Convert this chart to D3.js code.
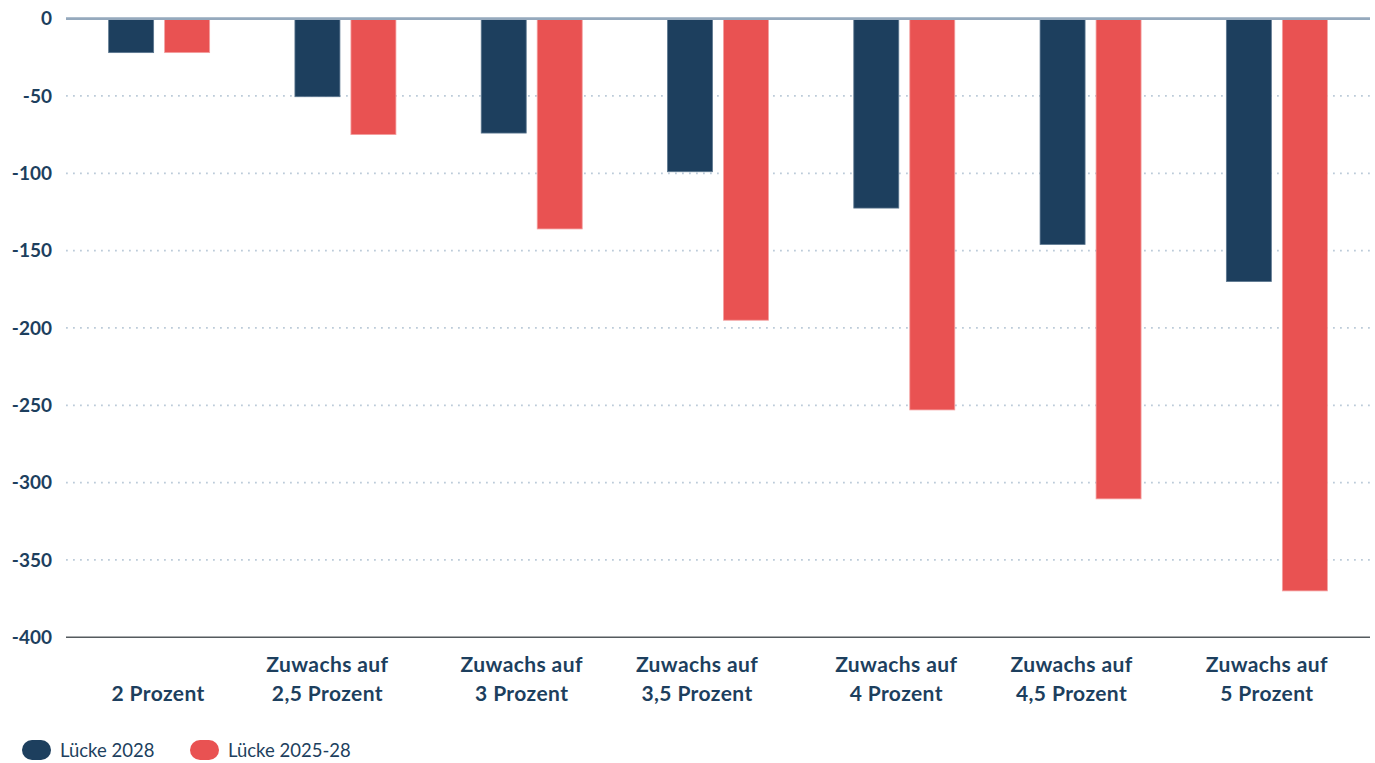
<!DOCTYPE html>
<html><head><meta charset="utf-8">
<script src="https://cdn.jsdelivr.net/npm/d3@7"></script>
<style>
html,body{margin:0;padding:0;background:#fff;}
svg{display:block;font-family:"Lato","Open Sans",sans-serif;}
</style></head>
<body>
<svg id="chart" width="1375" height="763"></svg>
<script>
const categories = [
  ["", "2 Prozent"],
  ["Zuwachs auf", "2,5 Prozent"],
  ["Zuwachs auf", "3 Prozent"],
  ["Zuwachs auf", "3,5 Prozent"],
  ["Zuwachs auf", "4 Prozent"],
  ["Zuwachs auf", "4,5 Prozent"],
  ["Zuwachs auf", "5 Prozent"]
];
const seriesNames = ["Lücke 2028", "Lücke 2025-28"];
const luecke2028 = [-22, -50.5, -74, -99, -122.5, -146, -170];
const luecke2025_28 = [-22, -75, -136, -195, -253, -310.5, -370];
const yTicks = [0, -50, -100, -150, -200, -250, -300, -350, -400];
const colors = ["#1d3f5e", "#e95252"];

// layout: small horizontal nudges of the category labels, as in the original
const labelNudge = [-1, -18, -10, -21, -8, -19, -10];

const svg = d3.select("#chart");
const m = {left: 66, right: 1370, top: 18.6, bottom: 637.3};
const x = d3.scaleBand().domain(d3.range(categories.length)).range([m.left, m.right]).paddingInner(0).paddingOuter(0);
const y = d3.scaleLinear().domain([0, -400]).range([m.top, m.bottom]);
const barW = 45, gap = 11;
const textColor = "#1d3f5e";

// gridlines
svg.append("g").selectAll("line").data(yTicks.filter(t => t !== 0 && t !== -400)).join("line")
  .attr("x1", m.left).attr("x2", m.right)
  .attr("y1", d => y(d)).attr("y2", d => y(d))
  .attr("stroke", "#bccbd9").attr("stroke-width", 1.8)
  .attr("stroke-dasharray", "1.8,5.2");

// y labels
svg.append("g").selectAll("text").data(yTicks).join("text")
  .attr("x", 52).attr("y", d => y(d)).attr("dy", "0.36em")
  .attr("text-anchor", "end").attr("fill", textColor)
  .attr("font-size", 19).attr("font-weight", 700)
  .text(d => d);

// bars
const series = [luecke2028, luecke2025_28];
series.forEach((vals, si) => {
  svg.append("g").selectAll("rect").data(vals).join("rect")
    .attr("x", (d, i) => x(i) + x.bandwidth() / 2 + (si === 0 ? -(gap / 2 + barW) : gap / 2))
    .attr("y", y(0))
    .attr("width", barW)
    .attr("height", d => y(d) - y(0))
    .attr("fill", colors[si])
    .attr("stroke", si === 0 ? "#5d7890" : "#f4a0a0").attr("stroke-width", 0.8);
});

// zero line
svg.append("line").attr("x1", m.left).attr("x2", m.right)
  .attr("y1", y(0)).attr("y2", y(0))
  .attr("stroke", "#95a9bd").attr("stroke-width", 2.8);
// bottom axis line
svg.append("line").attr("x1", m.left).attr("x2", m.right)
  .attr("y1", y(-400)).attr("y2", y(-400))
  .attr("stroke", "#555a5e").attr("stroke-width", 1.6);

// category labels
const cg = svg.append("g").selectAll("g").data(categories).join("g")
  .attr("transform", (d, i) => `translate(${x(i) + x.bandwidth() / 2 + labelNudge[i]},0)`);
cg.append("text").attr("y", 672).attr("text-anchor", "middle")
  .attr("fill", textColor).attr("font-size", 21).attr("font-weight", 700)
  .attr("letter-spacing", 0.4)
  .text(d => d[0]);
cg.append("text").attr("y", 700.5).attr("text-anchor", "middle")
  .attr("fill", textColor).attr("font-size", 21).attr("font-weight", 700)
  .attr("letter-spacing", 0.4)
  .text(d => d[1]);

// legend
const legX = [22, 190];
const lg = svg.append("g").selectAll("g").data(seriesNames).join("g")
  .attr("transform", (d, i) => `translate(${legX[i]},750)`);
lg.append("rect").attr("x", 0).attr("y", -10).attr("width", 29).attr("height", 20)
  .attr("rx", 10).attr("fill", (d, i) => colors[i]);
lg.append("text").attr("x", 38).attr("y", 0).attr("dy", "0.36em")
  .attr("fill", textColor).attr("font-size", 18.5).text(d => d);
</script>
</body></html>
